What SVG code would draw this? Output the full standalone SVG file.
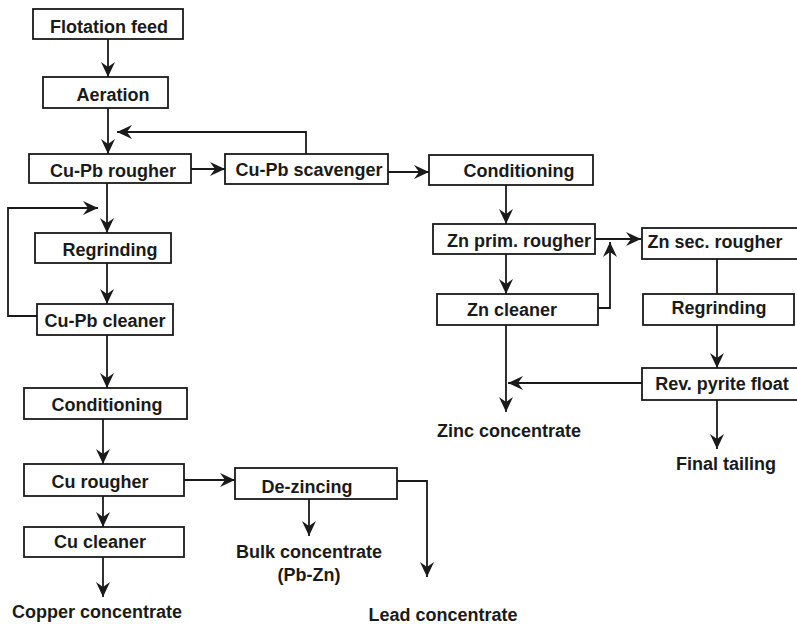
<svg xmlns="http://www.w3.org/2000/svg" width="797" height="624" viewBox="0 0 797 624">
<style>
.b{fill:#fff;stroke:#1a1a1a;stroke-width:1.8}
.t{font-family:"Liberation Sans",Arial,sans-serif;font-weight:bold;font-size:18px;fill:#1a1a1a;text-anchor:middle}
.c{fill:none;stroke:#1a1a1a;stroke-width:1.8}
.a{marker-end:url(#ah)}
</style>
<defs>
<marker id="ah" markerUnits="userSpaceOnUse" markerWidth="18" markerHeight="16" refX="15" refY="7" orient="auto">
<path d="M0,0 L15,7 L0,14 L5,7 z" fill="#1a1a1a"/>
</marker>
</defs>
<rect width="797" height="624" fill="#fff"/>
<g id="connectors">
<path class="c a" d="M108,39 V77"/>
<path class="c a" d="M108,108 V154"/>
<path class="c a" d="M306,154 V132 H117"/>
<path class="c a" d="M191,169 H225"/>
<path class="c a" d="M107,183 V233"/>
<path class="c a" d="M37,316 H8 V208 H98"/>
<path class="c a" d="M107,263 V304"/>
<path class="c a" d="M107,335 V388"/>
<path class="c a" d="M103,419 V464"/>
<path class="c a" d="M184,480 H235"/>
<path class="c a" d="M103,496 V527"/>
<path class="c a" d="M103,557 V597"/>
<path class="c a" d="M309,499 V536"/>
<path class="c a" d="M397,481 H427 V577"/>
<path class="c a" d="M388,172 H429"/>
<path class="c a" d="M506,185 V224"/>
<path class="c a" d="M595,239 H641"/>
<path class="c a" d="M506,254 V294"/>
<path class="c a" d="M598,308 H610 V242"/>
<path class="c a" d="M506,325 V412"/>
<path class="c" d="M717,259 V294"/>
<path class="c a" d="M717,325 V368"/>
<path class="c a" d="M642,383 H508"/>
<path class="c a" d="M717,400 V449"/>
</g>
<g id="flotation-feed"><rect class="b" x="33" y="9" width="150" height="30"/><text class="t" x="109" y="33">Flotation feed</text></g>
<g id="aeration"><rect class="b" x="43" y="77" width="125" height="31"/><text class="t" x="113" y="101">Aeration</text></g>
<g id="cupb-rougher"><rect class="b" x="29" y="154" width="162" height="29"/><text class="t" x="113" y="177">Cu-Pb rougher</text></g>
<g id="cupb-scavenger"><rect class="b" x="225" y="154" width="163" height="30"/><text class="t" x="309" y="176">Cu-Pb scavenger</text></g>
<g id="regrinding-1"><rect class="b" x="35" y="233" width="136" height="30"/><text class="t" x="110" y="256">Regrinding</text></g>
<g id="cupb-cleaner"><rect class="b" x="37" y="304" width="136" height="31"/><text class="t" x="105" y="327">Cu-Pb cleaner</text></g>
<g id="conditioning-1"><rect class="b" x="24" y="388" width="163" height="31"/><text class="t" x="107" y="411">Conditioning</text></g>
<g id="cu-rougher"><rect class="b" x="24" y="464" width="160" height="32"/><text class="t" x="100" y="488">Cu rougher</text></g>
<g id="cu-cleaner"><rect class="b" x="24" y="527" width="160" height="30"/><text class="t" x="100" y="548">Cu cleaner</text></g>
<g id="de-zincing"><rect class="b" x="235" y="468" width="162" height="31"/><text class="t" x="307" y="493">De-zincing</text></g>
<g id="copper-concentrate"><text class="t" x="97" y="618">Copper concentrate</text></g>
<g id="bulk-concentrate"><text class="t" x="309" y="558">Bulk concentrate</text><text class="t" x="309" y="581">(Pb-Zn)</text></g>
<g id="lead-concentrate"><text class="t" x="443" y="621">Lead concentrate</text></g>
<g id="conditioning-2"><rect class="b" x="429" y="155" width="164" height="30"/><text class="t" x="519" y="177">Conditioning</text></g>
<g id="zn-prim-rougher"><rect class="b" x="433" y="224" width="162" height="30"/><text class="t" x="519" y="247">Zn prim. rougher</text></g>
<g id="zn-sec-rougher"><rect class="b" x="642" y="228" width="158" height="31"/><text class="t" x="715" y="248">Zn sec. rougher</text></g>
<g id="zn-cleaner"><rect class="b" x="437" y="294" width="161" height="31"/><text class="t" x="512" y="316">Zn cleaner</text></g>
<g id="regrinding-2"><rect class="b" x="643" y="294" width="151" height="31"/><text class="t" x="719" y="314">Regrinding</text></g>
<g id="rev-pyrite-float"><rect class="b" x="642" y="368" width="158" height="32"/><text class="t" x="722" y="390">Rev. pyrite float</text></g>
<g id="zinc-concentrate"><text class="t" x="509" y="437">Zinc concentrate</text></g>
<g id="final-tailing"><text class="t" x="726" y="470">Final tailing</text></g>
</svg>
